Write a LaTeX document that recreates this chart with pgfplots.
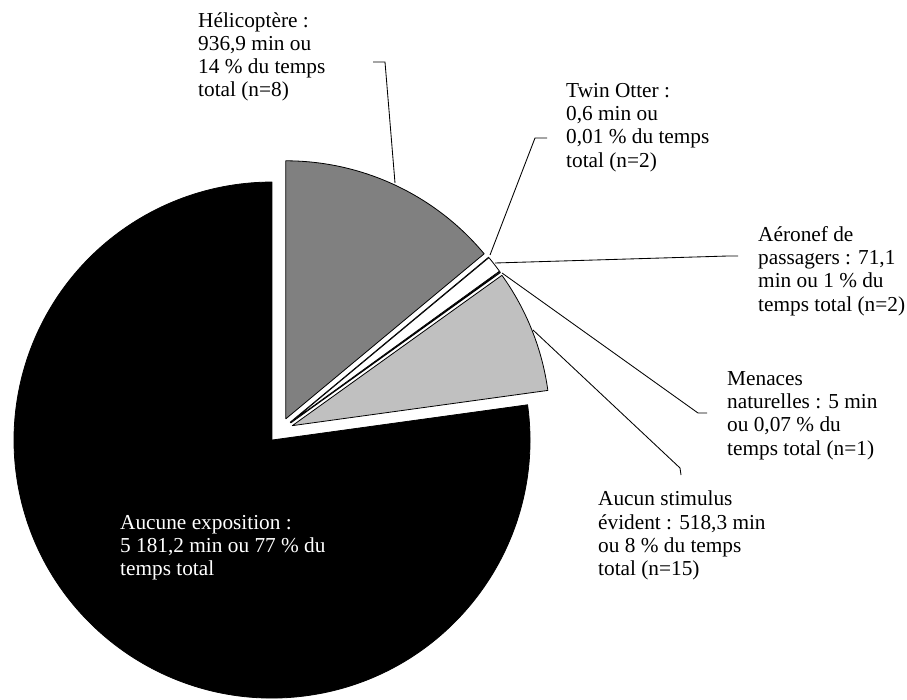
\documentclass[border=0pt]{standalone}
\usepackage{fontspec}
\setmainfont{Liberation Serif}
\usepackage{pgfplots}
\usepackage{pgfplotstable}
\pgfplotsset{compat=1.18}

% minutes per category, clockwise from the top
\pgfplotstableread{
minutes
936.9
0.6
71.1
5
518.3
5181.2
}\piedata

% start, end and middle angle of every slice
\def\pietotal{0}%
\foreach \i in {0,...,5}{%
  \pgfplotstablegetelem{\i}{minutes}\of\piedata
  \pgfmathparse{\pietotal+\pgfplotsretval}%
  \xdef\pietotal{\pgfmathresult}%
}%
\xdef\piecum{90}%
\foreach \i in {0,...,5}{%
  \pgfplotstablegetelem{\i}{minutes}\of\piedata
  \pgfmathsetmacro\piefrac{\pgfplotsretval/\pietotal}%
  \pgfmathsetmacro\pieend{\piecum-360*\piefrac}%
  \pgfmathsetmacro\piemid{(\piecum+\pieend)/2}%
  \expandafter\xdef\csname pieS\i\endcsname{\piecum}%
  \expandafter\xdef\csname pieE\i\endcsname{\pieend}%
  \expandafter\xdef\csname pieM\i\endcsname{\piemid}%
  \xdef\piecum{\pieend}%
}%

\definecolor{heli}{HTML}{808080}
\definecolor{stim}{HTML}{C0C0C0}
\expandafter\def\csname pieC0\endcsname{heli}
\expandafter\def\csname pieC1\endcsname{white}
\expandafter\def\csname pieC2\endcsname{white}
\expandafter\def\csname pieC3\endcsname{white}
\expandafter\def\csname pieC4\endcsname{stim}
\expandafter\def\csname pieC5\endcsname{black}

\begin{document}
\begin{tikzpicture}
\begin{axis}[
  width=907bp, height=700bp, scale only axis,
  xmin=0, xmax=907, ymin=0, ymax=700,
  hide axis, clip=false,
]
\pgfplotsinvokeforeach{0,...,5}{
  \filldraw[fill=\csname pieC#1\endcsname, draw=black, line width=0.8bp, line join=round]
    (axis cs:280.4,269.6) ++(\csname pieM#1\endcsname:12.8bp)
    -- ++(\csname pieS#1\endcsname:258bp)
    arc[start angle=\csname pieS#1\endcsname, end angle=\csname pieE#1\endcsname, radius=258bp]
    -- cycle;
}

% leader lines
\tikzset{lead/.style={line width=0.85bp}}
\draw[lead] (axis cs:373,638) -- (axis cs:385,638) -- (axis cs:395,517);
\draw[lead] (axis cs:547,562) -- (axis cs:535,562) -- (axis cs:490,445);
\draw[lead] (axis cs:495,437) -- (axis cs:728,444) -- (axis cs:738,444);
\draw[lead] (axis cs:502,427) -- (axis cs:698,287) -- (axis cs:707,287);
\draw[lead] (axis cs:533,370) -- (axis cs:680,232) -- (axis cs:681,225);

% labels
\tikzset{lab/.style={anchor=north west, align=left, inner sep=0pt,
  font=\fontsize{21.3bp}{23.3bp}\selectfont}}
\node[lab] at (axis cs:198,688) {Hélicoptère :\\936,9 min ou\\14 \% du temps\\total (n=8)};
\node[lab] at (axis cs:566,617) {Twin Otter :\\0,6 min ou\\0,01 \% du temps\\total (n=2)};
\node[lab] at (axis cs:758,474) {Aéronef de\\passagers : 71,1\\min ou 1 \% du\\temps total (n=2)};
\node[lab] at (axis cs:727,329) {Menaces\\naturelles : 5 min\\ou 0,07 \% du\\temps total (n=1)};
\node[lab] at (axis cs:598,209) {Aucun stimulus\\évident : 518,3 min\\ou 8 \% du temps\\total (n=15)};
\node[lab, text=white] at (axis cs:120,185) {Aucune exposition :\\5 181,2 min ou 77 \% du\\temps total};
\end{axis}
\pgfresetboundingbox
\useasboundingbox (0,0) rectangle (907bp,700bp);
\end{tikzpicture}
\end{document}
